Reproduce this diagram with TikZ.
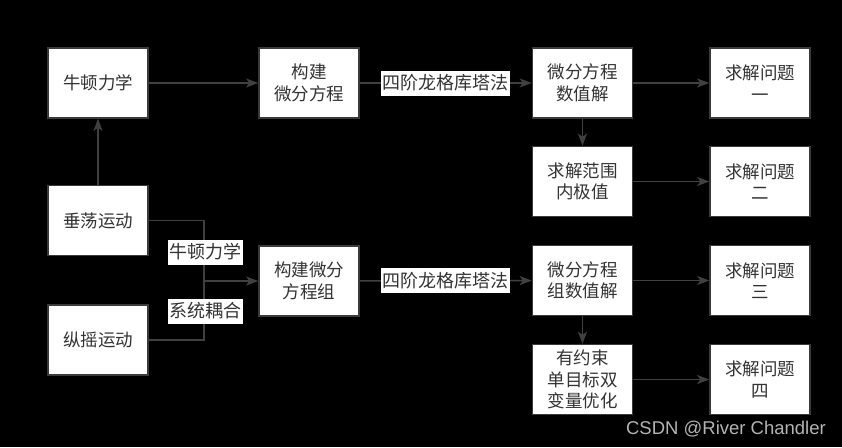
\documentclass[tikz,border=0pt]{standalone}
\usepackage{fontspec}
\setmainfont{Noto Sans CJK SC}
\newfontfamily\wmfont{Liberation Sans}
\usetikzlibrary{arrows.meta}
\definecolor{boxgray}{HTML}{3A3A3A}
\definecolor{linegray}{HTML}{404040}
\definecolor{textgray}{HTML}{333333}
\definecolor{wmgray}{HTML}{B4B4B4}
\tikzset{
  box/.style={draw=boxgray, line width=1.6pt, fill=white, minimum width=100pt,
    minimum height=70pt, text=textgray, align=center, inner sep=0pt,
    font=\fontsize{17.5}{21.5}\selectfont},
  lbl/.style={fill=white, text=textgray, inner xsep=1.5pt, inner ysep=0pt,
    minimum height=25pt, font=\fontsize{18}{20}\selectfont},
  conn/.style={draw=linegray, line width=1.5pt},
  arr/.style={conn, -{Stealth[length=12pt,width=9pt,inset=3pt]}}
}
\begin{document}
\begin{tikzpicture}[x=1pt,y=-1pt]
\fill[black] (0,0) rectangle (842,447);
\useasboundingbox (0,0) rectangle (842,447);
% boxes
\node[box] (nd)  at (98,83)     {牛顿力学};
\node[box] (gj1) at (309,83)    {构建\\微分方程};
\node[box] (sz1) at (582.5,83)  {微分方程\\数值解};
\node[box] (q1)  at (760,83)    {求解问题\\一};
\node[box] (jz)  at (582.5,181.5) {求解范围\\内极值};
\node[box] (q2)  at (760,181.5) {求解问题\\二};
\node[box] (cd)  at (98,220.5)  {垂荡运动};
\node[box] (zy)  at (98,340)    {纵摇运动};
\node[box] (gj2) at (309,281)   {构建微分\\方程组};
\node[box] (sz2) at (582.5,280.5) {微分方程\\组数值解};
\node[box] (q3)  at (760,280.5) {求解问题\\三};
\node[box] (yh)  at (582.5,379.5) {有约束\\单目标双\\变量优化};
\node[box] (q4)  at (760,379.5) {求解问题\\四};
\coordinate (j) at (204,281);
% connectors
\draw[arr] (nd) -- (gj1);
\draw[arr] (cd) -- (nd);
\draw[arr] (gj1) -- node[lbl] (rk1) {四阶龙格库塔法} (sz1);
\draw[arr] (sz1) -- (q1);
\draw[arr] (sz1) -- (jz);
\draw[arr] (jz) -- (q2);
\draw[conn] (cd.east) -| (j);
\draw[conn] (zy.east) -| (j);
\draw[arr] (j) -- (gj2);
\node[lbl] (lb1) at (205,252) {牛顿力学};
\node[lbl] (lb2) at (205,311) {系统耦合};
\draw[arr] (gj2) -- node[lbl] (rk2) {四阶龙格库塔法} (sz2);
\draw[arr] (sz2) -- (q3);
\draw[arr] (sz2) -- (yh);
\draw[arr] (yh) -- (q4);
\node[text=wmgray, font=\wmfont\fontsize{18.5}{20}\selectfont, anchor=east, inner sep=0pt] (wm) at (826,429) {CSDN @River Chandler};
\end{tikzpicture}
\end{document}
